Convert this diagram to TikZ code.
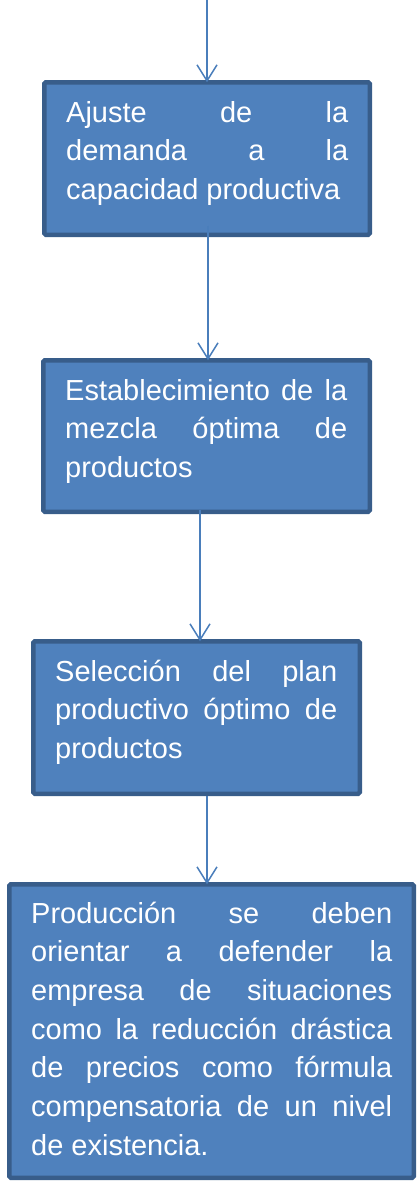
\documentclass[tikz,border=0pt]{standalone}
\usepackage{fontspec}
\setmainfont{Liberation Sans}
\usetikzlibrary{arrows.meta}
\definecolor{boxfill}{HTML}{4F81BD}
\definecolor{boxline}{HTML}{385D8A}
\definecolor{arrcol}{HTML}{4A7EBB}
\newcommand\jline[2]{\makebox[#1][s]{#2}\par}
\begin{document}
\begin{tikzpicture}[x=1pt,y=-1pt,
  box/.style={draw=boxline, fill=boxfill, line width=4.5pt, rounded corners=1.5pt, inner sep=0pt, outer sep=0pt},
  txt/.style={anchor=base west, inner sep=0pt, text=white, font=\fontsize{29}{38.7}\selectfont},
  arr/.style={draw=arrcol, line width=1.5pt, -{Straight Barb[length=16pt,width=20pt,line width=1.5pt]}}]
\useasboundingbox (0,0) rectangle (417,1183);

\node[box, minimum width=325.5pt, minimum height=152.5pt] (b1) at (207,158.5) {};
\node[box, minimum width=326.5pt, minimum height=151.5pt] (b2) at (206.5,436) {};
\node[box, minimum width=326.5pt, minimum height=152.5pt] (b3) at (196.5,717.5) {};
\node[box, minimum width=404.5pt, minimum height=293.5pt] (b4) at (211.5,1031) {};

\node[txt] (t1) at (66,122) {\parbox[t]{282pt}{\jline{282pt}{Ajuste de la}\jline{282pt}{demanda a la}capacidad productiva}};
\node[txt] (t2) at (65,400) {\parbox[t]{282pt}{\jline{282pt}{Establecimiento de la}\jline{282pt}{mezcla óptima de}productos}};
\node[txt] (t3) at (55,681) {\parbox[t]{282pt}{\jline{282pt}{Selección del plan}\jline{282pt}{productivo óptimo de}productos}};
\node[txt] (t4) at (31,923) {\parbox[t]{361pt}{\jline{361pt}{Producción se deben}\jline{361pt}{orientar a defender la}\jline{361pt}{empresa de situaciones}\jline{361pt}{como la reducción drástica}\jline{361pt}{de precios como fórmula}\jline{361pt}{compensatoria de un nivel}de existencia.}};

\coordinate (top) at (207,0);
\draw[arr] (top) -- (b1.north);
\draw[arr] ([xshift=1pt,yshift=9pt]b1.south) -- ([xshift=1.5pt]b2.north);
\draw[arr] ([xshift=-6.5pt,yshift=2pt]b2.south) -- ([xshift=3.5pt]b3.north);
\draw[arr] ([xshift=10.5pt,yshift=-2pt]b3.south) -- ([xshift=-4.5pt]b4.north);
\end{tikzpicture}
\end{document}
